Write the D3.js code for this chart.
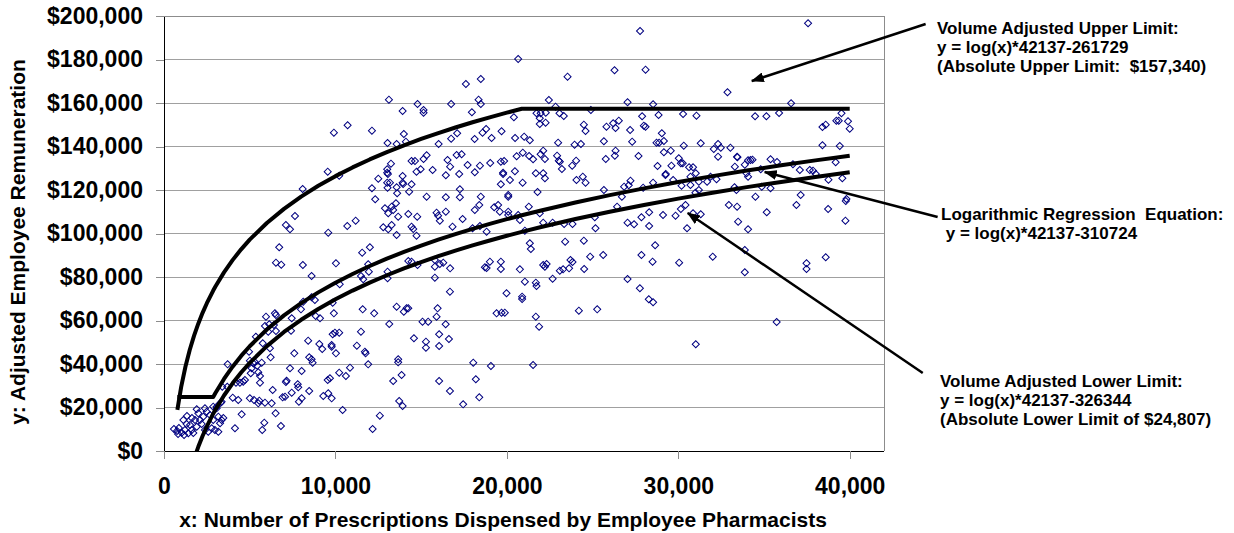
<!DOCTYPE html>
<html>
<head>
<meta charset="utf-8">
<script src="https://cdn.jsdelivr.net/npm/d3@7"></script>
<style>
	body { margin: 0; background: #fff; }
	svg text { font-family: "Liberation Sans", Arial, sans-serif; font-weight: bold; fill: #000; white-space: pre; }
</style>
</head>
<body>
<svg></svg>
<script>
const size = { w: 1234, h: 533 };
const plot = { l: 164, r: 884, t: 16, b: 451 };

// axes
const xTicks = [0, 10000, 20000, 30000, 40000];
const yTicks = [0, 20000, 40000, 60000, 80000, 100000, 120000, 140000, 160000, 180000, 200000];

// the three limit curves: y = ln(x) * slope + intercept
const upperLimit = { slope: 42137, intercept: -261729, cap: 157340 };
const regressionLine = { slope: 42137, intercept: -310724, floor: 24807 };
const lowerLimit = { slope: 42137, intercept: -318350 };
const curveX = [780, 1000, 1250, 1500, 1750, 2000, 2250, 2500, 2870, 3000, 3500, 4000, 4500, 5000, 6000, 7000, 8000,
	9000, 10000, 11000, 12000, 13000, 14000, 15000, 16000, 17000, 18000, 19000, 20000, 20870, 22000, 24000,
	26000, 28000, 30000, 32000, 34000, 36000, 38000, 40000];

// employees: [prescriptions dispensed, adjusted remuneration]
const employees = [
	[20660,180240],[17610,168750],[18480,171040],[13120,161530],[14790,159550],[18350,161530],[18480,159550],[16750,159550],
	[13920,156330],[15140,156790],[15140,155550],[17960,155730],[20410,153430],[22450,161390],[21730,155270],[21970,155270],
	[22270,155550],[21920,152970],[21920,150350],[22260,150950],[9910,146350],[10710,149760],[12130,147270],[13990,145760],
	[13040,141620],[13570,141160],[14110,142220],[18790,148060],[18580,146350],[17100,146080],[16750,143600],[18120,143460],
	[19110,143920],[19690,147000],[20480,143920],[21010,144510],[21340,142860],[16020,141160],[22120,138080],[20930,137160],
	[20570,135500],[21300,135640],[21530,134120],[21970,136420],[22220,134260],[14440,133340],[14640,133340],[15320,135960],
	[15140,134260],[16540,133800],[17070,136100],[17360,136420],[13240,132100],[13020,129520],[13020,127960],[13060,127360],
	[9550,128420],[10220,126580],[12500,125200],[13920,126450],[14970,129520],[14730,128420],[15670,129200],[16440,126770],
	[16690,130720],[17220,127360],[17710,131500],[18430,131180],[18130,128140],[19030,132420],[19650,133020],[19840,133340],
	[19780,127960],[19780,127360],[20470,128600],[20180,124600],[20920,123360],[21690,127690],[22120,127690],[22220,125390],
	[21790,119090],[8090,120470],[12130,120790],[13020,123360],[13180,123360],[13040,121060],[13570,121250],[13920,123360],
	[13950,122770],[14440,122630],[14300,119220],[13600,118490],[15320,116930],[16440,116650],[17260,120330],[17260,116650],
	[18480,116930],[19650,122630],[20080,117710],[20080,116930],[12320,115730],
	[37570,196650],[27770,193120],[26280,175040],[28090,175320],[23540,172100],[32870,164930],[22840,158310],[23070,155270],
	[23320,154030],[24900,156790],[27040,160330],[28530,159410],[28850,154490],[27890,153890],[27990,149570],[28090,149110],
	[30280,154950],[31060,154170],[34480,153890],[35140,153890],[35880,155410],[36580,159870],[39520,155270],[39220,151870],
	[39360,151870],[39900,151590],[38410,148980],[38600,150030],[40000,148190],[24490,150030],[24590,147140],[25810,149110],
	[26340,148520],[26200,150670],[26530,151870],[27190,147600],[27310,142220],[25660,142400],[22990,141760],[23950,140840],
	[24320,141160],[29040,146080],[28880,141760],[28730,141760],[29160,142540],[30320,140380],[31310,141480],[32070,138860],
	[32320,141160],[32480,139460],[32320,135320],[33040,139460],[33450,135040],[38410,140560],[39420,140240],[22930,135780],
	[23030,133480],[23090,133020],[23210,129660],[23810,131180],[24040,133480],[24430,126120],[24590,123360],[24060,124600],
	[25770,134260],[26340,138080],[26300,135780],[25660,120010],[27680,135640],[27210,124280],[27110,122170],[26840,121520],
	[26710,116930],[27950,121060],[28530,123360],[28790,131040],[29270,127360],[29250,126900],[29160,137340],[29560,138080],
	[29600,131180],[29700,124600],[30030,134580],[30150,132280],[30260,132280],[30630,130440],[30860,130440],[31020,127690],
	[31200,123820],[30190,121980],[30710,126120],[30710,122310],[31000,118770],[31200,120010],[31680,123820],[31880,126120],
	[32230,124930],[33300,130720],[33430,135320],[33280,121250],[33390,120010],[33880,131640],[34070,133660],[34210,133800],
	[34330,133940],[34070,126120],[33980,127690],[34810,129520],[35380,134120],[35760,132880],[34870,121520],[35380,120790],
	[34500,116930],[36690,131820],[37090,129200],[37670,129200],[37860,128880],[38020,127360],[39180,132740],[38760,124740],
	[39570,125390],[37140,117710],[39810,115870],
	[7640,108050],[7110,103910],[7350,101940],[9580,100370],[10690,103460],[11180,105890],[6720,93660],[6530,86580],
	[6840,85660],[8100,85520],[8610,80470],[10030,86300],[10250,76650],[11560,91180],[12010,93660],[11910,85840],
	[11950,82440],[11490,80470],[11620,78950],[12890,111590],[13080,109290],[13280,112330],[13370,110810],[13530,113890],
	[13660,107730],[14250,108970],[14770,107730],[12790,102860],[13080,101940],[13280,103910],[13570,99320],[14440,103130],
	[14540,102080],[14730,98990],[15900,109570],[15990,108190],[16090,105890],[16440,110030],[16830,103130],[17420,106670],
	[18000,102400],[18430,103460],[18130,110810],[18390,113110],[18820,100830],[19260,112050],[19490,113110],[19590,110030],
	[20080,110030],[20080,108510],[20660,108510],[20760,106210],[21280,112330],[21050,101290],[21340,95500],[21400,92880],
	[14250,87360],[14440,87040],[14790,85520],[13040,82440],[13040,79410],[15800,87820],[15800,84740],[15800,79680],
	[16290,86580],[16090,85980],[16690,84000],[16680,73250],[18720,84460],[18820,84140],[19010,87040],[19650,87040],
	[19650,83680],[20760,83540],[21050,77840],[21690,77380],[21730,75870],[22120,85520],[22220,84740],[22320,85980],
	[19980,72510],[20890,70950],[20890,69890],[21690,61750],[21880,57150],[19400,63310],[19690,63590],[19880,63590],
	[13570,66350],[13990,64050],[14150,65610],[14250,65610],[12260,63310],[11590,65150],[13140,58390],[15080,59450],
	[15410,59450],[15960,65610],[15900,61750],[16430,58260],[16050,53660],[16050,48280],[16620,51500],[15280,50260],
	[15280,47500],[14580,51820],[11490,54850],[11250,48420],[11720,45660],[11760,44920],[11910,39860],[13660,42160],
	[13660,40780],[13370,32190],[13860,34940],[16050,32190],[16680,27590],[18040,40600],[19070,39080],[18190,32970],
	[18390,24690],[17450,21470],[21530,39540],[13720,22990],[13920,20690],[12590,16230],[12170,10120],[10420,18850],
	[10850,38300],[10610,34490],[10220,36000],[9840,68190],[9910,63310],[9970,54390],[9840,53660],[10220,54390],
	[9780,48740],[9780,47960],[10030,44920],[9230,46900],[9060,49200],[8410,50720],[8610,42160],[8670,40600],
	[8470,43080],[7600,44920],[7350,38030],[8030,36780],[7150,32320],[7110,31730],[7800,30670],[7830,29290],
	[8030,24230],[7870,22670],[8470,27590],[7060,24970],[6920,24690],[7450,26810],[9550,32650],[9680,33430],
	[9290,25290],[9580,26530],[9780,24230],[8850,62070],[9100,61010],[7990,65150],[8120,68650],[8610,70670],
	[8800,69430],[7450,61010],[7410,55310],[6470,63310],[6530,62530],[5950,61750],[5890,57480],[6140,58260],
	[6410,57930],[6080,54850],[6530,55180],[5360,52550],[5760,49520],[6180,47220],[6220,43080],[5010,41520],
	[5210,40320],[5310,40780],[5440,39220],[5700,40600],[5600,34490],[5500,36190],[5600,31400],[4720,32650],
	[4620,31860],[4430,31400],[5060,35730],[5110,38030],[4960,45660],[3710,39860],[4200,31400],[6340,28050],
	[5010,24230],[5560,23130],[5500,21930],[5890,22210],[6280,21930],[5250,23450],[4330,23450],[4010,24510],
	[4530,16870],[4140,10440],[5850,13010],[5730,9660],[6510,17330],[6820,11500],[3400,29560],[3690,29560],
	[3310,22210],[3070,19630],[3360,22670],[21920,109290],[22120,104970],[22670,104970],
	[26430,112330],[27040,104970],[27420,104240],[27850,107450],[28300,109750],[28300,103460],[29110,108510],[29840,108190],
	[30150,111270],[30420,113110],[30510,102400],[30860,109290],[31310,108830],[32950,113110],[33430,112330],[33490,105430],
	[34070,101940],[35160,109750],[36890,113110],[38740,111270],[39770,114950],[39750,105890],[23400,96240],[23340,104370],
	[23830,104370],[24490,96700],[25170,102400],[25130,107450],[24860,89340],[25620,90120],[24510,83680],[23710,87820],
	[23830,86900],[23630,84000],[23280,83540],[23090,82900],[22670,79220],[27850,90120],[28500,87040],[28650,94580],
	[30050,86580],[32010,89340],[33880,92420],[33880,82170],[37480,86300],[37480,83680],[38600,89060],[27040,79090],
	[27760,74810],[28280,69750],[28530,68370],[24200,64510],[25270,65150],[31020,49060],[35740,59310],
	[760,9200],[870,10580],[1030,8410],[1130,14250],[1220,9660],[1320,12410],[1420,8140],[1520,11950],
	[1620,9660],[1710,8280],[1810,14250],[1910,11170],[1910,19170],[2000,17330],[2100,14250],[2200,12410],
	[2290,15770],[2390,9660],[2390,19630],[2490,18070],[2580,8870],[2680,16550],[2780,10440],[2870,14250],
	[2870,20370],[3070,20370],[3170,15770],[2970,9660],[3170,8870],[3270,12740],[3360,14250],[3460,15170],
	[820,7820],[1170,7360],[580,10120],[1340,16090],[1630,15170]
];

// callouts: text lines, text anchor point, arrow tail and tip in data units
const callouts = [
	{ lines: ["Volume Adjusted Upper Limit:", "y = log(x)*42137-261729", "(Absolute Upper Limit:  $157,340)"],
		tx: 937, ty: 34, tail: [44430, 196330], tip: [34290, 170130] },
	{ lines: ["Logarithmic Regression  Equation:", " y = log(x)*42137-310724"],
		tx: 941, ty: 220, tail: [45130, 107590], tip: [35040, 128280] },
	{ lines: ["Volume Adjusted Lower Limit:", "y = log(x)*42137-326344", "(Absolute Lower Limit of $24,807)"],
		tx: 940, ty: 387, tail: [44260, 35860], tip: [30550, 109430] }
];

const svg = d3.select("svg").attr("width", size.w).attr("height", size.h);
svg.append("rect").attr("width", size.w).attr("height", size.h).attr("fill", "#fff");

const x = d3.scaleLinear().domain([0, 42000]).range([plot.l, plot.r]);
const y = d3.scaleLinear().domain([0, 200000]).range([plot.b, plot.t]);

svg.append("defs").append("clipPath").attr("id", "plotClip")
	.append("rect")
	.attr("x", plot.l).attr("y", plot.t)
	.attr("width", plot.r - plot.l).attr("height", plot.b - plot.t);

const arrowHead = svg.select("defs").append("marker")
	.attr("id", "arrowHead")
	.attr("markerUnits", "userSpaceOnUse")
	.attr("markerWidth", 13).attr("markerHeight", 10)
	.attr("refX", 12).attr("refY", 5)
	.attr("orient", "auto");
arrowHead.append("path").attr("d", "M0,0L13,5L0,10Z").attr("fill", "#000");

// gridlines
svg.append("g")
	.selectAll("line")
	.data(yTicks.filter((d) => d > 0))
	.join("line")
	.attr("x1", plot.l).attr("x2", plot.r)
	.attr("y1", (d) => y(d)).attr("y2", (d) => y(d))
	.attr("stroke", "#a0a0a0")
	.attr("shape-rendering", "crispEdges");

// top / right frame
svg.append("path")
	.attr("d", `M${plot.l},${plot.t}H${plot.r}V${plot.b}`)
	.attr("fill", "none")
	.attr("stroke", "#8c8c8c")
	.attr("shape-rendering", "crispEdges");

// scatter
const diamond = d3.symbol(d3.symbolSquare, 25);
svg.append("g")
	.selectAll("path")
	.data(employees)
	.join("path")
	.attr("d", diamond)
	.attr("transform", (d) => `translate(${x(d[0])},${y(d[1])}) rotate(45)`)
	.attr("fill", "none")
	.attr("stroke", "#000080")
	.attr("stroke-width", 1);

// curves
const line = d3.line().x((d) => x(d[0])).y((d) => y(d[1]));
const curveData = [
	curveX.map((v) => [v, Math.min(Math.log(v) * upperLimit.slope + upperLimit.intercept, upperLimit.cap)]),
	curveX.map((v) => [v, Math.max(Math.log(v) * regressionLine.slope + regressionLine.intercept, regressionLine.floor)]),
	curveX.filter((v) => v >= 1500).map((v) => [v, Math.log(v) * lowerLimit.slope + lowerLimit.intercept])
];
svg.append("g")
	.attr("clip-path", "url(#plotClip)")
	.selectAll("path")
	.data(curveData)
	.join("path")
	.attr("d", line)
	.attr("fill", "none")
	.attr("stroke", "#000")
	.attr("stroke-width", 4)
	.attr("stroke-linejoin", "round");

// axes
const yAxis = svg.append("g")
	.attr("transform", `translate(${plot.l},0)`)
	.call(d3.axisLeft(y).tickValues(yTicks).tickSize(8).tickSizeOuter(0).tickPadding(13)
		.tickFormat((d) => "$" + d3.format(",")(d)));
const xAxis = svg.append("g")
	.attr("transform", `translate(0,${plot.b})`)
	.call(d3.axisBottom(x).tickValues(xTicks).tickSize(8).tickSizeOuter(0).tickPadding(19)
		.tickFormat(d3.format(",")));
[yAxis, xAxis].forEach((g) => {
	g.select(".domain").attr("stroke", "#000").attr("shape-rendering", "crispEdges");
	g.selectAll(".tick line").attr("stroke", "#8c8c8c").attr("shape-rendering", "crispEdges");
	g.selectAll(".tick text").style("font-size", "23px").attr("fill", "#000");
});
xAxis.select(".domain").attr("d", `M${plot.l},0H${plot.r}`);

// axis titles
svg.append("text")
	.attr("transform", "translate(25,242) rotate(-90)")
	.attr("text-anchor", "middle")
	.style("font-size", "21px")
	.text("y: Adjusted Employee Remuneration");
svg.append("text")
	.attr("x", 503).attr("y", 527)
	.attr("text-anchor", "middle")
	.style("font-size", "21px")
	.text("x: Number of Prescriptions Dispensed by Employee Pharmacists");

// callouts
callouts.forEach((c) => {
	svg.append("line")
		.attr("x1", x(c.tail[0])).attr("y1", y(c.tail[1]))
		.attr("x2", x(c.tip[0])).attr("y2", y(c.tip[1]))
		.attr("stroke", "#000")
		.attr("stroke-width", 2.5)
		.attr("marker-end", "url(#arrowHead)");
	svg.append("text")
		.style("font-size", "17px")
		.selectAll("tspan")
		.data(c.lines)
		.join("tspan")
		.attr("x", c.tx)
		.attr("y", (d, i) => c.ty + i * 19)
		.text((d) => d);
});
</script>
</body>
</html>
